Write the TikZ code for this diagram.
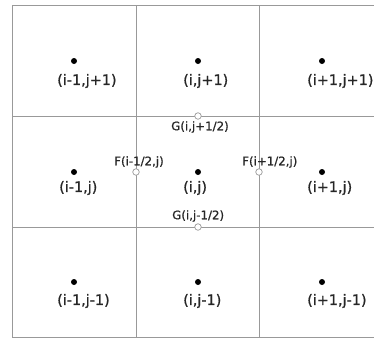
\documentclass[tikz,border=0pt]{standalone}
\usepackage{fontspec}
\setmainfont{DejaVu Sans}
\newfontfamily\labfont{DejaVu Sans}[FakeBold=0.8]
\begin{document}
\begin{tikzpicture}[x=1bp,y=-1bp,
  gridline/.style={draw=black!40, line width=0.9bp},
  pt/.style={circle, fill=black, inner sep=0pt, minimum size=6bp},
  flux/.style={circle, draw=black!40, fill=white, line width=0.7bp, inner sep=0pt, minimum size=6.5bp},
  biglab/.style={anchor=west, inner sep=0pt, font=\labfont\fontsize{14.4bp}{17bp}\selectfont, text=black!85},
  smalllab/.style={anchor=west, inner sep=0pt, font=\labfont\fontsize{11.8bp}{14bp}\selectfont, text=black!85}]
\useasboundingbox (0,0) rectangle (374,338);
\fill[white] (0,0) rectangle (374,338);
% grid
\foreach \x in {12,136,259} \draw[gridline] (\x,5) -- (\x,337);
\foreach \y in {5,116,227,337} \draw[gridline] (12,\y) -- (374,\y);
% cell centres
\node[pt] (a1) at (74,61) {};
\node[pt] (a2) at (198,61) {};
\node[pt] (a3) at (322,61) {};
\node[pt] (b1) at (74,172) {};
\node[pt] (b2) at (198,172) {};
\node[pt] (b3) at (322,172) {};
\node[pt] (c1) at (74,282) {};
\node[pt] (c2) at (198,282) {};
\node[pt] (c3) at (322,282) {};
% labels
\node[biglab] (la1) at (57,81) {(i-1,j+1)};
\node[biglab] (la2) at (183,81) {(i,j+1)};
\node[biglab] (la3) at (307,81) {(i+1,j+1)};
\node[biglab] (lb1) at (59,188) {(i-1,j)};
\node[biglab] (lb2) at (183,188) {(i,j)};
\node[biglab] (lb3) at (307,188) {(i+1,j)};
\node[biglab] (lc1) at (57,301) {(i-1,j-1)};
\node[biglab] (lc2) at (183,301) {(i,j-1)};
\node[biglab] (lc3) at (307,301) {(i+1,j-1)};
% face points
\node[flux] (gt) at (198,116) {};
\node[flux] (gb) at (198,227) {};
\node[flux] (fl) at (136,172) {};
\node[flux] (fr) at (259,172) {};
\node[smalllab] (lgt) at (171,127) {G(i,j+1/2)};
\node[smalllab] (lfl) at (114,162) {F(i-1/2,j)};
\node[smalllab] (lfr) at (242,162) {F(i+1/2,j)};
\node[smalllab] (lgb) at (172,216) {G(i,j-1/2)};
\end{tikzpicture}
\end{document}
